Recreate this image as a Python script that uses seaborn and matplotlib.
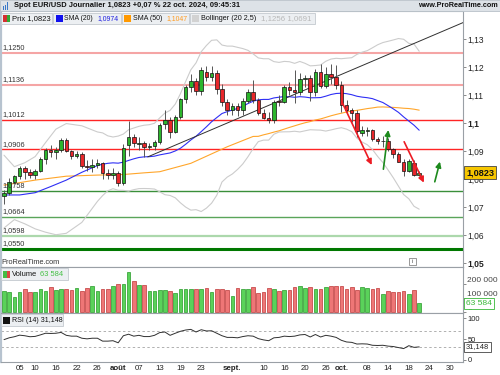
import numpy as np
import pandas as pd
import matplotlib
matplotlib.use("Agg")
import matplotlib.pyplot as plt
from matplotlib.patches import Rectangle
import seaborn as sns

# ---------------- data ----------------
first_day = "2024-07-02"
last_axis_day = "2024-10-31"

opens = [1.0738, 1.0750, 1.0788, 1.0810, 1.0840, 1.0826, 1.0813, 1.0830, 1.0870, 1.0905,
         1.0895, 1.0902, 1.0940, 1.0900, 1.0882, 1.0890, 1.0846, 1.0842, 1.0850, 1.0858,
         1.0820, 1.0815, 1.0822, 1.0787, 1.0920, 1.0950, 1.0924, 1.0927, 1.0915, 1.0918,
         1.0932, 1.0995, 1.1010, 1.0969, 1.1023, 1.1085, 1.1127, 1.1151, 1.1114, 1.1183,
         1.1163, 1.1178, 1.1120, 1.1076, 1.1046, 1.1062, 1.1046, 1.1078, 1.1110, 1.1083,
         1.1037, 1.1018, 1.1010, 1.1078, 1.1074, 1.1128, 1.1117, 1.1112, 1.1157, 1.1162,
         1.1110, 1.1182, 1.1133, 1.1175, 1.1165, 1.1135, 1.1066, 1.1046, 1.1036, 1.0966,
         1.0972, 1.0976, 1.0942, 1.0934, 1.0937, 1.0907, 1.0888, 1.0862, 1.0830, 1.0858,
         1.0816]
highs = [1.0760, 1.0805, 1.0815, 1.0845, 1.0845, 1.0835, 1.0835, 1.0880, 1.0912, 1.0920,
         1.0915, 1.0948, 1.0945, 1.0905, 1.0900, 1.0895, 1.0868, 1.0870, 1.0870, 1.0862,
         1.0835, 1.0840, 1.0830, 1.0925, 1.1008, 1.0960, 1.0950, 1.0935, 1.0930, 1.0940,
         1.1000, 1.1047, 1.1020, 1.1030, 1.1090, 1.1135, 1.1175, 1.1160, 1.1200, 1.1202,
         1.1202, 1.1190, 1.1140, 1.1085, 1.1070, 1.1070, 1.1090, 1.1120, 1.1155, 1.1090,
         1.1050, 1.1040, 1.1082, 1.1100, 1.1135, 1.1145, 1.1190, 1.1180, 1.1170, 1.1170,
         1.1192, 1.1210, 1.1200, 1.1210, 1.1207, 1.1150, 1.1083, 1.1055, 1.1045, 1.0990,
         1.0985, 1.0980, 1.0950, 1.0955, 1.0945, 1.0912, 1.0895, 1.0870, 1.0870, 1.0868,
         1.0830]
lows = [1.0712, 1.0742, 1.0782, 1.0800, 1.0800, 1.0805, 1.0800, 1.0825, 1.0855, 1.0880,
        1.0870, 1.0898, 1.0895, 1.0870, 1.0875, 1.0840, 1.0830, 1.0825, 1.0840, 1.0800,
        1.0800, 1.0800, 1.0776, 1.0780, 1.0882, 1.0915, 1.0905, 1.0880, 1.0905, 1.0905,
        1.0925, 1.0980, 1.0945, 1.0965, 1.1015, 1.1070, 1.1110, 1.1100, 1.1100, 1.1150,
        1.1150, 1.1105, 1.1060, 1.1030, 1.1030, 1.1025, 1.1030, 1.1070, 1.1070, 1.1030,
        1.1015, 1.1000, 1.1000, 1.1060, 1.1070, 1.1100, 1.1070, 1.1100, 1.1130, 1.1080,
        1.1095, 1.1125, 1.1125, 1.1140, 1.1120, 1.1040, 1.1035, 1.1005, 1.0950, 1.0955,
        1.0955, 1.0935, 1.0925, 1.0915, 1.0900, 1.0875, 1.0860, 1.0812, 1.0825, 1.0812,
        1.0810]
closes = [1.0750, 1.0788, 1.0810, 1.0840, 1.0826, 1.0813, 1.0830, 1.0870, 1.0905, 1.0895,
          1.0902, 1.0940, 1.0900, 1.0882, 1.0890, 1.0846, 1.0842, 1.0850, 1.0856, 1.0820,
          1.0815, 1.0822, 1.0787, 1.0910, 1.0950, 1.0928, 1.0927, 1.0915, 1.0918, 1.0932,
          1.0993, 1.1010, 1.0969, 1.1023, 1.1085, 1.1127, 1.1151, 1.1114, 1.1188, 1.1163,
          1.1178, 1.1120, 1.1076, 1.1046, 1.1062, 1.1046, 1.1078, 1.1110, 1.1083, 1.1037,
          1.1018, 1.1010, 1.1076, 1.1074, 1.1128, 1.1117, 1.1112, 1.1157, 1.1162, 1.1110,
          1.1182, 1.1133, 1.1175, 1.1165, 1.1135, 1.1066, 1.1046, 1.1036, 1.0972, 1.0975,
          1.0976, 1.0942, 1.0936, 1.0937, 1.0907, 1.0888, 1.0862, 1.0830, 1.0865, 1.0815,
          1.0823]
volumes = [152000, 141000, 108000, 141000, 167000, 143000, 141000, 167000, 152000, 176000,
           157000, 167000, 167000, 157000, 171000, 152000, 171000, 185000, 150000, 167000,
           167000, 188000, 199000, 197000, 286000, 221000, 192000, 190000, 150000, 152000,
           157000, 157000, 152000, 136000, 167000, 167000, 167000, 167000, 167000, 171000,
           143000, 164000, 164000, 155000, 117000, 171000, 167000, 167000, 176000, 134000,
           141000, 169000, 164000, 150000, 155000, 155000, 176000, 188000, 169000, 176000,
           164000, 164000, 176000, 185000, 188000, 183000, 164000, 176000, 157000, 176000,
           169000, 164000, 169000, 129000, 148000, 141000, 141000, 148000, 129000, 155000,
           63584]
rsi14 = [48.6, 53.0, 55.6, 59.4, 58.0, 55.6, 56.4, 60.0, 64.0, 63.5,
         64.0, 66.0, 59.0, 57.0, 57.0, 52.0, 50.5, 52.0, 52.0, 45.0,
         45.0, 46.0, 41.0, 58.0, 61.7, 57.0, 59.0, 56.0, 56.0, 59.0,
         65.6, 67.0, 59.0, 64.0, 68.7, 71.8, 73.3, 67.0, 72.5, 69.5,
         70.0, 64.0, 58.0, 54.0, 54.0, 53.0, 56.0, 58.0, 57.0, 51.0,
         48.0, 46.0, 53.0, 54.0, 57.0, 56.0, 57.0, 60.0, 61.0, 55.0,
         61.0, 55.0, 59.0, 57.0, 54.0, 47.0, 43.0, 42.0, 38.0, 38.5,
         38.0, 35.0, 34.5, 35.0, 33.0, 32.0, 29.5, 27.0, 34.0, 30.0,
         31.148]

# indicator values before enough history is on the chart
sma20_early_idx = [0, 3, 6, 9, 12, 15, 18]
sma20_early = [1.0743, 1.0743, 1.0751, 1.0773, 1.0796, 1.0824, 1.0848]
bb_early_idx = [0, 2, 4, 6, 8, 10, 12, 15, 18]
bb_upper_early = [1.0885, 1.0844, 1.0858, 1.0880, 1.0930, 1.0978, 1.0998, 1.0990, 1.0968]
bb_lower_early = [1.0625, 1.0655, 1.0640, 1.0622, 1.0610, 1.0601, 1.0606, 1.0645, 1.0720]
sma50_early_idx = [0, 6, 12, 18, 23, 27, 30, 36, 43, 48]
sma50_early = [1.0778, 1.0796, 1.0810, 1.0814, 1.0816, 1.0822, 1.0826, 1.0856, 1.0915, 1.0952]

levels = [1.1250, 1.1136, 1.1012, 1.0906, 1.0758, 1.0664, 1.0598, 1.0550]
level_labels = ["1,1250", "1,1136", "1,1012", "1,0906", "1,0758", "1,0664", "1,0598", "1,0550"]

trend_x = [27.7, 88.5]
trend_y = [1.0879, 1.1359]
arrow_tails = [(65.1, 1.1076), (73.1, 1.0835), (77.1, 1.0933), (83.0, 1.0790)]
arrow_heads = [(70.85, 1.0850), (74.05, 1.0975), (80.9, 1.0787), (84.0, 1.0862)]
arrow_up = [False, True, False, True]

price_ticks = [1.13, 1.12, 1.11, 1.10, 1.09, 1.08, 1.07, 1.06, 1.05]
price_tick_labels = ["1,13", "1,12", "1,11", "1,1", "1,09", "1,08", "1,07", "1,06", "1,05"]
vol_ticks = [0, 100000, 200000]
vol_tick_labels = ["0", "100 000", "200 000"]
rsi_ticks = [0, 50, 100]

tick_dates = ["2024-07-05", "2024-07-10", "2024-07-16", "2024-07-22", "2024-07-26",
              "2024-08-01", "2024-08-07", "2024-08-13", "2024-08-19", "2024-08-23",
              "2024-09-02", "2024-09-10", "2024-09-16", "2024-09-20", "2024-09-26",
              "2024-10-01", "2024-10-08", "2024-10-14", "2024-10-18", "2024-10-24", "2024-10-30"]
tick_labels = ["05", "10", "16", "22", "26", "août", "07", "13", "19", "23", "sept.",
               "10", "16", "20", "26", "oct.", "08", "14", "18", "24", "30"]
month_labels = {"août", "sept.", "oct."}

# ---------------- derived ----------------
axis_days = pd.bdate_range(first_day, last_axis_day)
n = len(closes)
idx = np.arange(n)
df = pd.DataFrame({"i": idx, "o": opens, "h": highs, "l": lows, "c": closes, "v": volumes, "rsi": rsi14})
df["up"] = df["c"] >= df["o"]
s = df["c"]
sma20 = s.rolling(20).mean()
sd20 = s.rolling(20).std(ddof=0)
sma50 = s.rolling(50).mean()

sma20_x = sma20_early_idx + list(range(19, n))
sma20_y = sma20_early + list(sma20[19:])
bb_x = bb_early_idx + list(range(19, n))
bbu_y = bb_upper_early + list((sma20 + 2.5 * sd20)[19:])
bbl_y = bb_lower_early + list((sma20 - 2.5 * sd20)[19:])
sma50_x = sma50_early_idx + list(range(49, n))
sma50_y = sma50_early + list(sma50[49:])

# ---------------- figure ----------------
sns.set_theme(style="white")
plt.rcParams["font.family"] = ["Liberation Sans", "DejaVu Sans"]

W, H = 500, 375
fig = plt.figure(figsize=(5, 3.75), dpi=100)
fig.patch.set_facecolor("white")
renderer = fig.canvas.get_renderer()


def size_for(txt, px, weight="normal"):
    """font size (pt) that makes txt about px pixels wide"""
    probe = fig.text(0, 0, txt, fontsize=10, fontweight=weight)
    w = probe.get_window_extent(renderer).width
    probe.remove()
    return 10.0 * px / w


def fx(x):
    return x / W


def fy(y):
    return 1 - y / H


L, R = 1, 463
ax = fig.add_axes([fx(L), fy(267), (R - L) / W, (267 - 11) / H])
axv = fig.add_axes([fx(L), fy(313), (R - L) / W, (313 - 267) / H], sharex=ax)
axr = fig.add_axes([fx(L), fy(362), (R - L) / W, (362 - 313) / H], sharex=ax)

x0 = (L - 4) / 5.19
x1 = (R - 4) / 5.19
ax.set_ylim(1.04857, 1.14)
axv.set_ylim(-4900, 319000)
axr.set_ylim(-5.3, 112.8)

GREEN = "#2cb52c"
RED = "#e8262a"

fs_level = size_for("1,1136", 22)
fs_price = size_for("1,12", 16.5)
fs_vol = size_for("200 000", 30)
fs_rsi = size_for("100", 12.5)
fs_x = size_for("sept.", 18.5, "bold")

# horizontal levels
lvl_style = [("#f5a5a5", 1.5), ("#f5a5a5", 1.5), ("#ff2424", 1.0), ("#ff2424", 1.0),
             ("#3a8f3a", 1.0), ("#5aa55a", 1.0), ("#acd8ac", 1.6), ("#007800", 2.2)]
for lv, lab, (col, lw) in zip(levels, level_labels, lvl_style):
    ax.axhline(lv, color=col, lw=lw, zorder=1)
    ax.annotate(lab, xy=(0.004, lv), xycoords=ax.get_yaxis_transform(), xytext=(0, 1.2),
                textcoords="offset points", va="bottom", ha="left", fontsize=fs_level,
                color="#333333", zorder=6)

# Bollinger, SMA lines
sns.lineplot(x=bb_x, y=bbu_y, ax=ax, color="#cccccc", lw=0.8, zorder=2)
sns.lineplot(x=bb_x, y=bbl_y, ax=ax, color="#cccccc", lw=0.8, zorder=2)
sns.lineplot(x=sma50_x, y=sma50_y, ax=ax, color="#ffa62b", lw=0.8, zorder=2)
sns.lineplot(x=sma20_x, y=sma20_y, ax=ax, color="#2f2ff5", lw=0.8, zorder=2)

# trend line
ax.plot(trend_x, trend_y, color="#303030", lw=0.7, zorder=3)

# candles
ax.vlines(df["i"], df["l"], df["h"], color="#555555", lw=0.7, zorder=4)
body_lo = np.minimum(df["o"], df["c"])
body_h = np.maximum(np.abs(df["c"] - df["o"]), 0.00006)
ax.bar(df["i"], body_h, bottom=body_lo, width=0.68,
       color=np.where(df["up"], GREEN, RED), edgecolor="#111111", lw=0.5, zorder=5)

# arrows
for t, h_, up in zip(arrow_tails, arrow_heads, arrow_up):
    col = "#1d8a1d" if up else "#ec1c24"
    ax.annotate("", xy=h_, xytext=t,
                arrowprops=dict(arrowstyle="-|>", color=col, lw=1.2, mutation_scale=8,
                                shrinkA=0, shrinkB=0), zorder=7)

# volume
axv.bar(df["i"], df["v"], width=0.7,
        color=np.where(df["up"], "#5ad25a", "#ee7676"),
        edgecolor=np.where(df["up"], "#279a27", "#bf3636"), lw=0.5, zorder=3)

# RSI
axr.axhline(70, color="#b0b0b0", lw=0.7, ls=(0, (2.5, 2.5)))
axr.axhline(30, color="#b0b0b0", lw=0.7, ls=(0, (2.5, 2.5)))
sns.lineplot(x=df["i"], y=df["rsi"], ax=axr, color="#303030", lw=0.7)

# axes styling
for a, fs in ((ax, fs_price), (axv, fs_vol), (axr, fs_rsi)):
    a.set_facecolor("white")
    a.set_xlabel("")
    a.set_ylabel("")
    a.grid(False)
    a.yaxis.tick_right()
    a.tick_params(axis="y", which="both", direction="out", length=2.2, width=0.6,
                  color="#777777", labelsize=fs, pad=1.0, labelcolor="#222222")
    for sp in ("top", "bottom", "right"):
        a.spines[sp].set_color("#9aa0a6")
        a.spines[sp].set_linewidth(0.8)
    a.spines["left"].set_color("#b7c3cf")
    a.spines["left"].set_linewidth(1.6)

for a in (ax, axv):
    a.tick_params(axis="x", which="both", bottom=False, labelbottom=False)

ax.set_yticks(price_ticks)
ax.set_yticklabels(price_tick_labels)
for t in ax.get_yticklabels():
    if t.get_text() in ("1,1", "1,05"):
        t.set_fontweight("bold")

axv.set_yticks(vol_ticks)
axv.set_yticklabels(vol_tick_labels)
for t in axv.get_yticklabels():
    t.set_verticalalignment("bottom")
    t.set_color("#444444")

axr.set_yticks(rsi_ticks)
axr.set_yticklabels([str(v) for v in rsi_ticks])

tick_pos = [axis_days.get_loc(pd.Timestamp(d)) for d in tick_dates]
axr.set_xticks(tick_pos)
axr.set_xticklabels(tick_labels)
axr.tick_params(axis="x", direction="out", length=1.8, width=0.6, color="#777777",
                labelsize=fs_x, pad=0.6, labelcolor="#222222")
for t in axr.get_xticklabels():
    if t.get_text() in month_labels:
        t.set_fontweight("bold")
ax.set_xlim(x0, x1)

# value boxes on right axis
ax.annotate("1,0823", xy=(1.0, closes[-1]), xycoords=ax.get_yaxis_transform(),
            xytext=(2.2, 0), textcoords="offset points", va="center", ha="left",
            fontsize=size_for("1,0823", 28, "bold"), fontweight="bold", color="#111111",
            zorder=10, annotation_clip=False,
            bbox=dict(boxstyle="square,pad=0.25", fc="#f6c600", ec="#444444", lw=0.6))
axv.annotate("63 584", xy=(1.0, volumes[-1]), xycoords=axv.get_yaxis_transform(),
             xytext=(2.2, 0), textcoords="offset points", va="center", ha="left",
             fontsize=size_for("63 584", 26), color="#38b838", zorder=10, annotation_clip=False,
             bbox=dict(boxstyle="square,pad=0.22", fc="white", ec="#38b838", lw=0.6))
axr.annotate("31,148", xy=(1.0, rsi14[-1]), xycoords=axr.get_yaxis_transform(),
             xytext=(2.2, 0), textcoords="offset points", va="center", ha="left",
             fontsize=size_for("31,148", 23), color="#222222", zorder=10, annotation_clip=False,
             bbox=dict(boxstyle="square,pad=0.22", fc="white", ec="#444444", lw=0.6))


# ---------------- header & legends (pixel placed) ----------------
def prect(xa, ya, xb, yb, fc, ec="none", lw=0.6, z=5):
    fig.add_artist(Rectangle((fx(xa), fy(yb)), (xb - xa) / W, (yb - ya) / H,
                             transform=fig.transFigure, fc=fc, ec=ec, lw=lw, zorder=z))


def ptext(x, y, s, px, **kw):
    kw.setdefault("va", "center")
    kw.setdefault("ha", "left")
    kw.setdefault("color", "#111111")
    kw["fontsize"] = size_for(s, px, kw.get("fontweight", "normal"))
    fig.text(fx(x), fy(y), s, zorder=8, **kw)


# header bar
prect(0, 0, 500, 11, "#dde2e7", ec="#b9c1c9", lw=0.6, z=4)
for k, hh in enumerate([3, 5, 7]):
    prect(2.5 + 2.2 * k, 9.5 - hh, 3.9 + 2.2 * k, 9.5, "#3a78c8", z=6)
ptext(14, 5.6, "Spot EUR/USD Journalier 1,0823 +0,07 % 22 oct. 2024, 09:45:31", 226,
      fontweight="bold")
ptext(498, 5.6, "www.ProRealTime.com", 80, ha="right", fontweight="bold")

# price legend row
BOXC, BOXE = "#eceff2", "#c3c9cf"
prect(1, 13.3, 52, 24.3, BOXC, BOXE)
prect(3, 15.2, 6.5, 22.2, "#d43030", z=6)
prect(6.5, 15.2, 10, 22.2, "#33aa33", z=6)
ptext(12, 18.8, "Prix 1,0823", 39)
prect(53, 13.3, 121, 24.3, BOXC, BOXE)
prect(55.5, 15.2, 62.5, 22.2, "#1010ee", z=6)
ptext(64, 18.8, "SMA (20)", 29)
ptext(97, 18.8, "1,0974", 21, color="#2020e0")
prect(122, 13.3, 189, 24.3, BOXC, BOXE)
prect(124, 15.2, 131, 22.2, "#ff9900", z=6)
ptext(133, 18.8, "SMA (50)", 29)
ptext(166, 18.8, "1,1047", 21, color="#ff9a20")
prect(190, 13.3, 315, 24.3, BOXC, BOXE)
prect(192, 15.2, 199, 22.2, "#d2d2d2", z=6)
ptext(201, 18.8, "Bollinger (20 2,5)", 56)
ptext(261, 18.8, "1,1256 1,0691", 50, color="#b8b8b8")

# volume legend
prect(1, 268, 68, 280, BOXC, BOXE)
prect(3, 270.5, 6.5, 277.5, "#44bb44", z=6)
prect(6.5, 270.5, 10, 277.5, "#dd4444", z=6)
ptext(12, 274.2, "Volume", 25)
ptext(40, 274.2, "63 584", 23, color="#44c044")

# RSI legend
prect(1, 314, 63, 326, BOXC, BOXE)
prect(3, 316.5, 10, 323.5, "#111111", z=6)
ptext(12, 320.2, "RSI (14) 31,148", 50)

# watermark text and info icon
ptext(1.5, 262, "ProRealTime.com", 59, color="#333333")
prect(409, 258, 415.5, 265, "white", ec="#888888", lw=0.6, z=6)
fig.text(fx(412.3), fy(261.6), "i", ha="center", va="center", fontsize=4.5,
         color="#555555", zorder=8)

fig.savefig("out.png", dpi=100)
